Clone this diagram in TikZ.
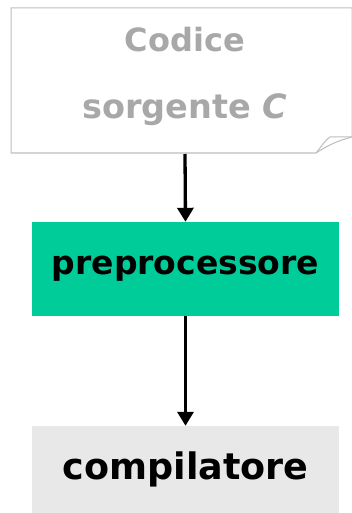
\documentclass[tikz,border=0pt]{standalone}
\usepackage{fontspec}
\setmainfont{DejaVu Sans}
\usetikzlibrary{arrows.meta}
\definecolor{notegray}{RGB}{190,190,190}
\definecolor{notetext}{RGB}{168,168,168}
\definecolor{prepgreen}{RGB}{0,204,153}
\definecolor{compgray}{RGB}{232,232,232}
\tikzset{
  conn/.style={line width=3.3pt,-{Triangle[length=14pt,width=16pt]}},
  notelabel/.style={text=notetext, font=\fontsize{32.5}{36}\selectfont\bfseries},
}
\begin{document}
\begin{tikzpicture}[x=1pt,y=-1pt]
\useasboundingbox (0,0) rectangle (352,513);
% note shape
\draw[notegray, line width=1pt, fill=white] (11,8) -- (352,8) -- (352,137)
  .. controls (340,140) and (330,144) .. (316,153) -- (11,153) -- cycle;
\draw[notegray, line width=1pt] (316,153) .. controls (322,146) and (324,141) .. (330,137) -- (352,137);
\node[notelabel, font=\fontsize{32}{36}\selectfont\bfseries] (c1) at (185,40) {Codice};
\node[notelabel, font=\fontsize{33.5}{36}\selectfont\bfseries] (c2) at (185,110) {sorgente \textit{C}};
\coordinate (note) at (185,154);
% boxes
\node[fill=prepgreen, minimum width=307pt, minimum height=94pt, inner sep=0pt,
  font=\fontsize{33}{36}\selectfont\bfseries] (prep) at (185.5,269) {preprocessore};
\node[fill=compgray, minimum width=307pt, minimum height=87pt, inner sep=0pt,
  font=\fontsize{36.5}{40}\selectfont\bfseries] (comp) at (185.5,469.5) {compilatore};
\draw[conn] (note) -- (prep.north);
\draw[conn] (prep.south) -- (comp.north);
\end{tikzpicture}
\end{document}
